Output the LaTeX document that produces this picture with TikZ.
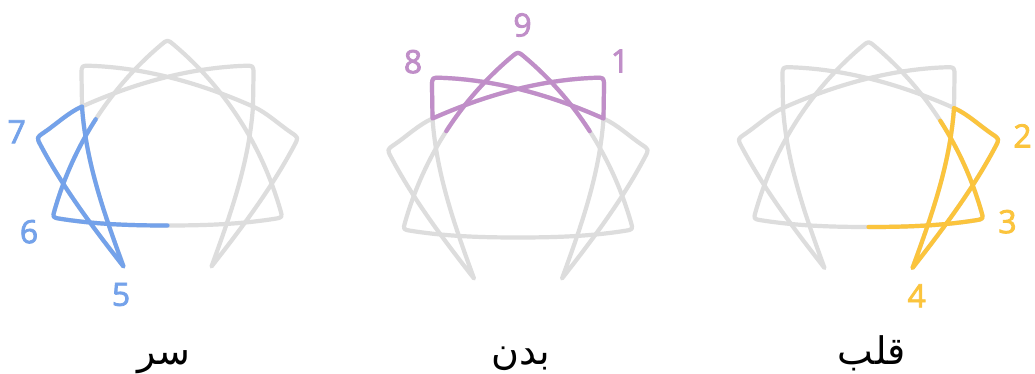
\documentclass[tikz,border=0pt]{standalone}
\usepackage{fontspec}
\setmainfont{Open Sans}
\newfontfamily\numfont{Open Sans}[FakeBold=2.5]
\newfontfamily\arabicfont[Script=Arabic]{DejaVu Sans}
\TeXXeTstate=1
\definecolor{lgray}{RGB}{221,221,221}
\definecolor{hblue}{RGB}{116,162,234}
\definecolor{hpurple}{RGB}{192,142,200}
\definecolor{hyellow}{RGB}{251,196,61}
\tikzset{
  stroke/.style={line width=4.2pt, line cap=round, line join=round},
  num/.style={font=\numfont\fontsize{32}{32}\selectfont, inner sep=0pt, anchor=center},
  word/.style={font=\arabicfont\fontsize{38}{38}\selectfont, inner sep=0pt, anchor=base}
}
\begin{document}
\begin{tikzpicture}[x=1pt,y=-1pt]
\useasboundingbox[fill=white] (0,0) rectangle (1035,374);
% gray full figures
\foreach \cx/\cy in {167.5/40.5, 518/52.5, 868.5/42}{
  \begin{scope}[shift={(\cx,\cy)}]
    \draw[stroke,lgray] (85.5,66) .. controls (34.3,43.2) and (-21.1,27.3) .. (-77,25.3)
      .. controls (-86,25) .. (-86,34) -- (-85.5,66)
      .. controls (-81.6,121.9) and (-63.2,173.4) .. (-44,226)
      .. controls (-74.2,187.4) and (-103.8,148.2) .. (-126.8,104.9)
      .. controls (-131,97) .. (-123.5,92)
      .. controls (-111.1,83.6) and (-99.2,72.1) .. (-85.5,66)
      .. controls (-34.3,43.2) and (21.1,27.3) .. (77,25.3)
      .. controls (86,25) .. (86,34) -- (85.5,66)
      .. controls (81.6,121.9) and (63.2,173.4) .. (44,226)
      .. controls (74.2,187.4) and (103.8,148.2) .. (126.8,104.9)
      .. controls (131,97) .. (123.5,92)
      .. controls (111.1,83.6) and (99.2,72.1) .. (85.5,66);
    \draw[stroke,lgray] (-71.75,78.7) .. controls (-53.8,50.85) and (-31.75,25.65) .. (-6.1,4.1)
      .. controls (0,-1) .. (6.1,4.1)
      .. controls (31.75,25.65) and (53.8,50.85) .. (71.75,78.7)
      .. controls (89.7,106.6) and (103.55,137.1) .. (112.8,169.3)
      .. controls (115,177) .. (107.1,178.3)
      .. controls (71.5,183.9) and (36,185) .. (0,185)
      .. controls (-36,185) and (-71.5,183.9) .. (-107.1,178.3)
      .. controls (-115,177) .. (-112.8,169.3)
      .. controls (-103.55,137.1) and (-89.7,106.6) .. (-71.75,78.7);
  \end{scope}
}
% head (blue)
\begin{scope}[shift={(167.5,40.5)}]
  \draw[stroke,hblue] (-85.5,66) .. controls (-81.6,121.9) and (-63.2,173.4) .. (-44,226)
    .. controls (-74.2,187.4) and (-103.8,148.2) .. (-126.8,104.9)
    .. controls (-131,97) .. (-123.5,92)
    .. controls (-111.1,83.6) and (-99.2,72.1) .. (-85.5,66);
  \draw[stroke,hblue] (0,185) .. controls (-36,185) and (-71.5,183.9) .. (-107.1,178.3)
    .. controls (-115,177) .. (-112.8,169.3)
    .. controls (-103.55,137.1) and (-89.7,106.6) .. (-71.75,78.7);
\end{scope}
% body (purple)
\begin{scope}[shift={(518,52.5)}]
  \draw[stroke,hpurple] (85.5,66) .. controls (34.3,43.2) and (-21.1,27.3) .. (-77,25.3)
    .. controls (-86,25) .. (-86,34) -- (-85.5,66)
    .. controls (-34.3,43.2) and (21.1,27.3) .. (77,25.3)
    .. controls (86,25) .. (86,34) -- (85.5,66);
  \draw[stroke,hpurple] (-71.75,78.7) .. controls (-53.8,50.85) and (-31.75,25.65) .. (-6.1,4.1)
    .. controls (0,-1) .. (6.1,4.1)
    .. controls (31.75,25.65) and (53.8,50.85) .. (71.75,78.7);
\end{scope}
% heart (yellow)
\begin{scope}[shift={(868.5,42)}]
  \draw[stroke,hyellow] (85.5,66) .. controls (81.6,121.9) and (63.2,173.4) .. (44,226)
    .. controls (74.2,187.4) and (103.8,148.2) .. (126.8,104.9)
    .. controls (131,97) .. (123.5,92)
    .. controls (111.1,83.6) and (99.2,72.1) .. (85.5,66);
  \draw[stroke,hyellow] (71.75,78.7) .. controls (89.7,106.6) and (103.55,137.1) .. (112.8,169.3)
    .. controls (115,177) .. (107.1,178.3)
    .. controls (71.5,183.9) and (36,185) .. (0,185);
\end{scope}
% numbers
\node[num,text=hblue] (n7) at (16.7,131.7) {7};
\node[num,text=hblue] (n6) at (29,231.7) {6};
\node[num,text=hblue] (n5) at (121,294.5) {5};
\node[num,text=hpurple] (n8) at (413,61.7) {8};
\node[num,text=hpurple] (n9) at (522.5,25) {9};
\node[num,text=hpurple] (n1) at (620,61) {1};
\node[num,text=hyellow] (n2) at (1022.5,135.8) {2};
\node[num,text=hyellow] (n3) at (1007.5,221.7) {3};
\node[num,text=hyellow] (n4) at (916.7,295.8) {4};
% words
\node[word] (head) at (164.2,364) {\beginR سر\endR};
\node[word] (body) at (520.8,364) {\beginR بدن\endR};
\node[word] (heart) at (871.7,364) {\beginR قلب\endR};
\end{tikzpicture}
\end{document}
